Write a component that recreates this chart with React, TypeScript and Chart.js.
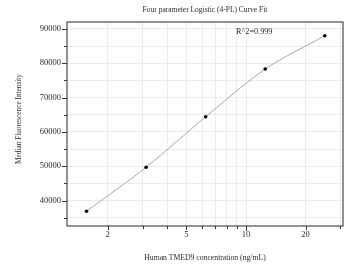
import React, { useEffect, useRef } from "react";
import { Chart, registerables } from "chart.js";

Chart.register(...registerables);

const concentrations = [1.5625, 3.125, 6.25, 12.5, 25];
const mfi = [36900, 49700, 64400, 78300, 88000];
const xTickValues = [2, 3, 4, 5, 6, 7, 8, 9, 10, 20, 30];
const xLabelValues = [2, 5, 10, 20];
const yTickValues = [35000, 40000, 45000, 50000, 55000, 60000, 65000, 70000, 75000, 80000, 85000, 90000];
const yLabelValues = [40000, 50000, 60000, 70000, 80000, 90000];
const chartTitle = "Four parameter Logistic (4-PL) Curve Fit";
const xTitle = "Human TMED9 concentration (ng/mL)";
const yTitle = "Median Fluorescence Intensity";
const annotation = "R^2=0.999";

const FONT = "Liberation Serif";
const W = 348;
const H = 268;

export default function App() {
  const ref = useRef<HTMLCanvasElement | null>(null);

  useEffect(() => {
    if (!ref.current) return;

    const framePlugin = {
      id: "frameAndText",
      afterDraw(chart: any) {
        const { ctx, chartArea } = chart;
        const xs = chart.scales.x;
        const ys = chart.scales.y;
        ctx.save();
        // frame
        ctx.strokeStyle = "#4a4a4a";
        ctx.lineWidth = 1.2;
        ctx.strokeRect(chartArea.left, chartArea.top, chartArea.right - chartArea.left, chartArea.bottom - chartArea.top);
        // tick marks
        ctx.lineWidth = 1;
        ctx.strokeStyle = "#333";
        ctx.beginPath();
        yTickValues.forEach((v) => {
          const y = Math.round(ys.getPixelForValue(v)) + 0.5;
          const len = yLabelValues.includes(v) ? 5 : 3;
          ctx.moveTo(chartArea.left - len, y);
          ctx.lineTo(chartArea.left, y);
        });
        xTickValues.forEach((v) => {
          const x = Math.round(xs.getPixelForValue(v)) + 0.5;
          const len = v === 10 ? 5 : xLabelValues.includes(v) ? 4 : 3;
          ctx.moveTo(x, chartArea.bottom);
          ctx.lineTo(x, chartArea.bottom + len);
        });
        ctx.stroke();
        // texts
        ctx.fillStyle = "#2a2a2a";
        ctx.textAlign = "center";
        ctx.textBaseline = "middle";
        const cx = (chartArea.left + chartArea.right) / 2;
        ctx.font = `7.5px "${FONT}"`;
        ctx.fillText(chartTitle, cx, 10);
        ctx.font = `7.7px "${FONT}"`;
        ctx.fillText(xTitle, cx, 258);
        ctx.save();
        ctx.translate(19, 119);
        ctx.rotate(-Math.PI / 2);
        ctx.font = `7.3px "${FONT}"`;
        ctx.fillText(yTitle, 0, 0);
        ctx.restore();
        ctx.textAlign = "left";
        ctx.font = `8.2px "${FONT}"`;
        ctx.fillText(annotation, chartArea.left + 169, chartArea.top + 10);
        ctx.restore();
      },
    };

    const chart = new Chart(ref.current, {
      type: "scatter",
      data: {
        datasets: [
          {
            data: concentrations.map((x, i) => ({ x, y: mfi[i] })),
            showLine: true,
            tension: 0.3,
            borderColor: "#a8a8a8",
            borderWidth: 1,
            pointRadius: 1.8,
            pointBackgroundColor: "#000",
            pointBorderColor: "#000",
            pointBorderWidth: 0,
          } as any,
        ],
      },
      options: {
        animation: false,
        responsive: false,
        devicePixelRatio: 1,
        layout: { padding: { top: 22, right: 5, bottom: 0, left: 0 } },
        plugins: {
          legend: { display: false },
          title: { display: false },
          tooltip: { enabled: false },
        },
        scales: {
          x: {
            type: "logarithmic",
            min: 1.245,
            max: 30.9,
            afterBuildTicks: (s: any) => {
              s.ticks = xTickValues.map((v) => ({ value: v }));
            },
            afterFit: (s: any) => {
              s.height = 42;
            },
            ticks: {
              autoSkip: false,
              maxRotation: 0,
              padding: 4,
              color: "#2a2a2a",
              font: { family: FONT, size: 8.5 },
              callback: (v: any) => (xLabelValues.includes(Number(v)) ? String(v) : ""),
            },
            grid: { color: "#ececec", lineWidth: 1, drawTicks: false },
            border: { display: false },
          },
          y: {
            type: "linear",
            min: 32600,
            max: 92000,
            afterBuildTicks: (s: any) => {
              s.ticks = yTickValues.map((v) => ({ value: v }));
            },
            afterFit: (s: any) => {
              s.width = 67;
            },
            ticks: {
              autoSkip: false,
              padding: 6,
              color: "#2a2a2a",
              font: { family: FONT, size: 8.5 },
              callback: (v: any) => (yLabelValues.includes(Number(v)) ? String(v) : ""),
            },
            grid: { color: "#ececec", lineWidth: 1, drawTicks: false },
            border: { display: false },
          },
        },
      },
      plugins: [framePlugin],
    });

    return () => chart.destroy();
  }, []);

  return (
    <div style={{ position: "fixed", left: 0, top: 0, width: W, height: H, background: "#fff" }}>
      <canvas ref={ref} width={W} height={H} style={{ width: W, height: H, display: "block" }} />
    </div>
  );
}
